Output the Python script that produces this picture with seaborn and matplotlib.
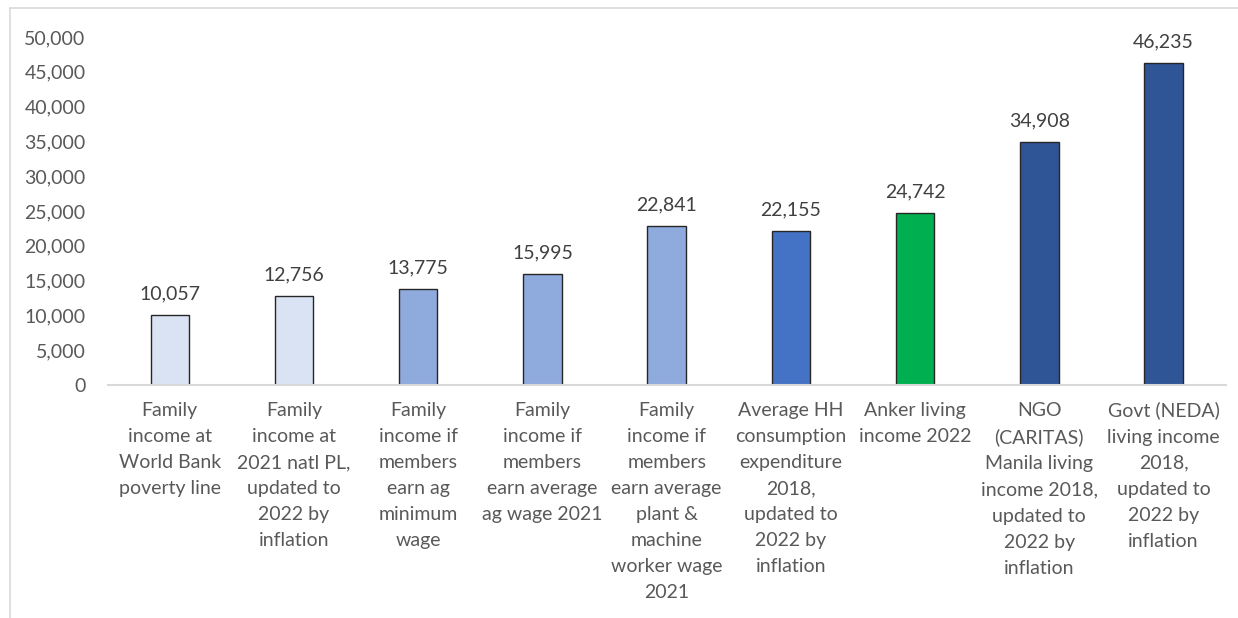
import matplotlib
matplotlib.use("Agg")
import matplotlib.pyplot as plt
import seaborn as sns
import pandas as pd
from matplotlib.ticker import FuncFormatter

# Data
categories = [
    "Family\nincome at\nWorld Bank\npoverty line",
    "Family\nincome at\n2021 natl PL,\nupdated to\n2022 by\ninflation",
    "Family\nincome if\nmembers\nearn ag\nminimum\nwage",
    "Family\nincome if\nmembers\nearn average\nag wage 2021",
    "Family\nincome if\nmembers\nearn average\nplant &\nmachine\nworker wage\n2021",
    "Average HH\nconsumption\nexpenditure\n2018,\nupdated to\n2022 by\ninflation",
    "Anker living\nincome 2022",
    "NGO\n(CARITAS)\nManila living\nincome 2018,\nupdated to\n2022 by\ninflation",
    "Govt (NEDA)\nliving income\n2018,\nupdated to\n2022 by\ninflation",
]
values = [10057, 12756, 13775, 15995, 22841, 22155, 24742, 34908, 46235]
bar_colors = ["#DAE3F3", "#DAE3F3", "#8FAADC", "#8FAADC", "#8FAADC",
              "#4472C4", "#00B050", "#2F5597", "#2F5597"]

df = pd.DataFrame({"cat": categories, "val": values})

sns.set_style("white")
plt.rcParams["font.family"] = ["Lato", "DejaVu Sans"]
text_color = "#595959"

fig = plt.figure(figsize=(12.38, 6.18), dpi=100)
ax = fig.add_axes([0.087, 0.377, 0.903, 0.563])

sns.barplot(data=df, x="cat", y="val", hue="cat", palette=bar_colors,
            legend=False, width=0.31, saturation=1, edgecolor="#262626",
            linewidth=1.0, ax=ax)

ax.set_ylim(0, 50000)
ax.set_yticks(range(0, 50001, 5000))
ax.yaxis.set_major_formatter(FuncFormatter(lambda v, p: f"{int(v):,}"))
ax.set_xlim(-0.5, len(categories) - 0.5)
ax.set_xticks(range(len(categories)), labels=categories, linespacing=1.65,
              ha="center", va="top")
ax.set_xlabel("")
ax.set_ylabel("")

for s in ["left", "right", "top"]:
    ax.spines[s].set_visible(False)
ax.spines["bottom"].set_color("#D9D9D9")
ax.spines["bottom"].set_linewidth(1.5)

ax.tick_params(axis="y", length=0, labelsize=14, labelcolor=text_color, pad=16)
ax.tick_params(axis="x", length=0, labelsize=14, labelcolor=text_color, pad=12)

for i, v in enumerate(values):
    ax.annotate(f"{v:,}", (i, v), xytext=(0, 9), textcoords="offset points",
                ha="center", va="bottom", fontsize=14, color="#404040")

# chart border (top and left visible)
fig.add_artist(plt.Line2D([10 / 1238, 1.0], [1 - 8 / 618, 1 - 8 / 618],
                          color="#D9D9D9", linewidth=1.2))
fig.add_artist(plt.Line2D([10 / 1238, 10 / 1238], [0.0, 1 - 8 / 618],
                          color="#D9D9D9", linewidth=1.2))

fig.savefig("out.png", dpi=100)
